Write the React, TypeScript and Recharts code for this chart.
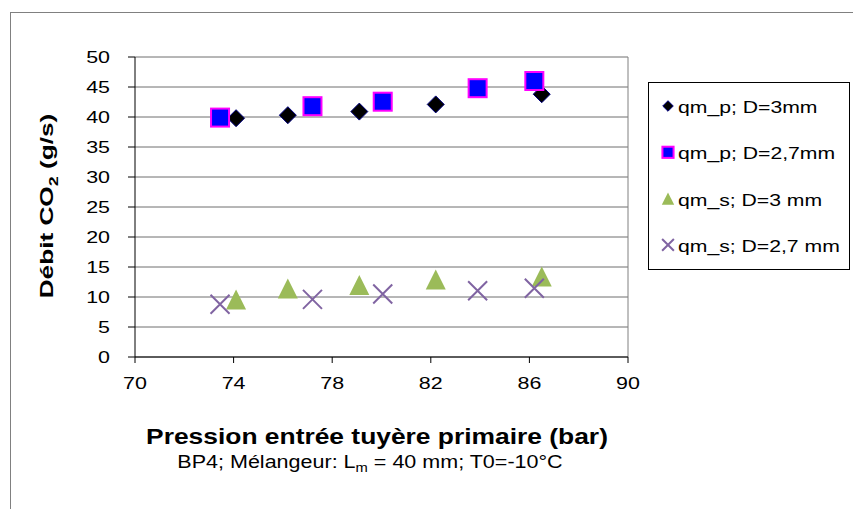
import { ScatterChart, Scatter, XAxis, YAxis, CartesianGrid, Legend, ReferenceLine } from "recharts"

// Pression (bar) for each nozzle diameter
const pressure3mm = [74.1, 76.2, 79.1, 82.2, 86.5]
const pressure27mm = [73.45, 77.2, 80.05, 83.9, 86.2]

// Débit CO2 (g/s)
const qmP3mm = [39.8, 40.3, 40.9, 42.1, 43.8]
const qmP27mm = [39.9, 41.8, 42.55, 44.8, 46.0]
const qmS3mm = [9.6, 11.4, 12.0, 12.9, 13.4]
const qmS27mm = [8.8, 9.6, 10.5, 11.05, 11.45]

const xTicks = [70, 74, 78, 82, 86, 90]
const yTicks = [0, 5, 10, 15, 20, 25, 30, 35, 40, 45, 50]

const toPoints = (xs: number[], ys: number[]) => xs.map((x, i) => ({ x, y: ys[i] }))

const seriesList = [
  { name: "qm_p; D=3mm", data: toPoints(pressure3mm, qmP3mm), kind: "diamond" },
  { name: "qm_p; D=2,7mm", data: toPoints(pressure27mm, qmP27mm), kind: "square" },
  { name: "qm_s; D=3 mm", data: toPoints(pressure3mm, qmS3mm), kind: "triangle" },
  { name: "qm_s; D=2,7 mm", data: toPoints(pressure27mm, qmS27mm), kind: "cross" },
]

const font = "Arial, 'Liberation Sans', sans-serif"
// the original text is drawn wider than plain Arial
const stretch = 1.3

function Marker({ kind, cx, cy, s = 1 }: { kind: string; cx: number; cy: number; s?: number }) {
  if (kind === "diamond") {
    const r = 8.5 * s
    return (
      <path
        d={`M${cx},${cy - r} L${cx + r},${cy} L${cx},${cy + r} L${cx - r},${cy} Z`}
        fill="#000"
        stroke="#000080"
        strokeWidth={1}
      />
    )
  }
  if (kind === "square") {
    const r = 9 * s
    return <rect x={cx - r} y={cy - r} width={r * 2} height={r * 2} fill="#0000ff" stroke="#ff00ff" strokeWidth={2} />
  }
  if (kind === "triangle") {
    const r = 10 * s
    return <path d={`M${cx},${cy - r} L${cx + r},${cy + r} L${cx - r},${cy + r} Z`} fill="#9bbb59" />
  }
  const r = 9.5 * s
  return (
    <path
      d={`M${cx - r},${cy - r} L${cx + r},${cy + r} M${cx + r},${cy - r} L${cx - r},${cy + r}`}
      stroke="#8064a2"
      strokeWidth={2}
      fill="none"
    />
  )
}

function LegendBox() {
  return (
    <svg width={202} height={188} style={{ display: "block" }}>
      <rect x={0.5} y={0.5} width={201} height={187} fill="#fff" stroke="#000" />
      {seriesList.map((s, i) => (
        <g key={s.name}>
          <Marker kind={s.kind} cx={20} cy={24 + i * 46.3} s={0.62} />
          <text
            transform={`translate(30,${31 + i * 46.3}) scale(${stretch},1)`}
            fontFamily={font}
            fontSize={16.3}
            fill="#000"
          >
            {s.name}
          </text>
        </g>
      ))}
    </svg>
  )
}

function YTick(props: any) {
  const { x, y, payload } = props
  return (
    <text transform={`translate(${x},${y + 6}) scale(${stretch},1)`} textAnchor="end" fontFamily={font} fontSize={16.5} fill="#000">
      {payload.value}
    </text>
  )
}

function XTick(props: any) {
  const { x, y, payload } = props
  return (
    <text transform={`translate(${x},${y + 14}) scale(${stretch},1)`} textAnchor="middle" fontFamily={font} fontSize={16.5} fill="#000">
      {payload.value}
    </text>
  )
}

export default function App() {
  return (
    <div style={{ position: "absolute", left: 0, top: 0, width: 853, height: 509, overflow: "hidden", background: "#fff" }}>
      <div
        style={{
          position: "absolute",
          left: 10,
          top: 12,
          width: 900,
          height: 600,
          border: "1px solid #808080",
        }}
      />
      <div style={{ position: "absolute", left: 0, top: 0 }}>
        <ScatterChart width={853} height={509} margin={{ top: 57, right: 225, bottom: 122, left: 75 }}>
          <CartesianGrid horizontal vertical={false} stroke="#6e6e6e" />
          <XAxis
            type="number"
            dataKey="x"
            domain={[70, 90]}
            ticks={xTicks}
            height={30}
            stroke="#000"
            tickSize={6}
            tickMargin={12}
            tick={<XTick />}
          />
          <YAxis
            type="number"
            dataKey="y"
            domain={[0, 50]}
            ticks={yTicks}
            width={60}
            stroke="#000"
            tickSize={7}
            tickMargin={18}
            tick={<YTick />}
          />
          <ReferenceLine x={90} stroke="#808080" />
          <Legend
            content={() => <LegendBox />}
            layout="vertical"
            verticalAlign="middle"
            align="center"
            wrapperStyle={{ left: 648, top: 82, width: 202, height: 188 }}
          />
          {seriesList.map((s) => (
            <Scatter
              key={s.name}
              name={s.name}
              data={s.data}
              isAnimationActive={false}
              shape={(p: any) => <Marker kind={s.kind} cx={p.cx} cy={p.cy} />}
            />
          ))}
          <text
            transform={`translate(53,206) rotate(-90) scale(1.38,1)`}
            textAnchor="middle"
            fontFamily={font}
            fontSize={19}
            fontWeight="bold"
            fill="#000"
          >
            Débit CO
            <tspan fontSize={13} dy={5}>2</tspan>
            <tspan dy={-5}> (g/s)</tspan>
          </text>
          <text
            transform={`translate(377,444) scale(1.2,1)`}
            textAnchor="middle"
            fontFamily={font}
            fontSize={22}
            fontWeight="bold"
            fill="#000"
          >
            Pression entrée tuyère primaire (bar)
          </text>
          <text
            transform={`translate(370,468) scale(1.23,1)`}
            textAnchor="middle"
            fontFamily={font}
            fontSize={17.5}
            fill="#000"
          >
            BP4; Mélangeur: L
            <tspan fontSize={12} dy={4}>m</tspan>
            <tspan dy={-4}> = 40 mm; T0=-10°C</tspan>
          </text>
        </ScatterChart>
      </div>
    </div>
  )
}
